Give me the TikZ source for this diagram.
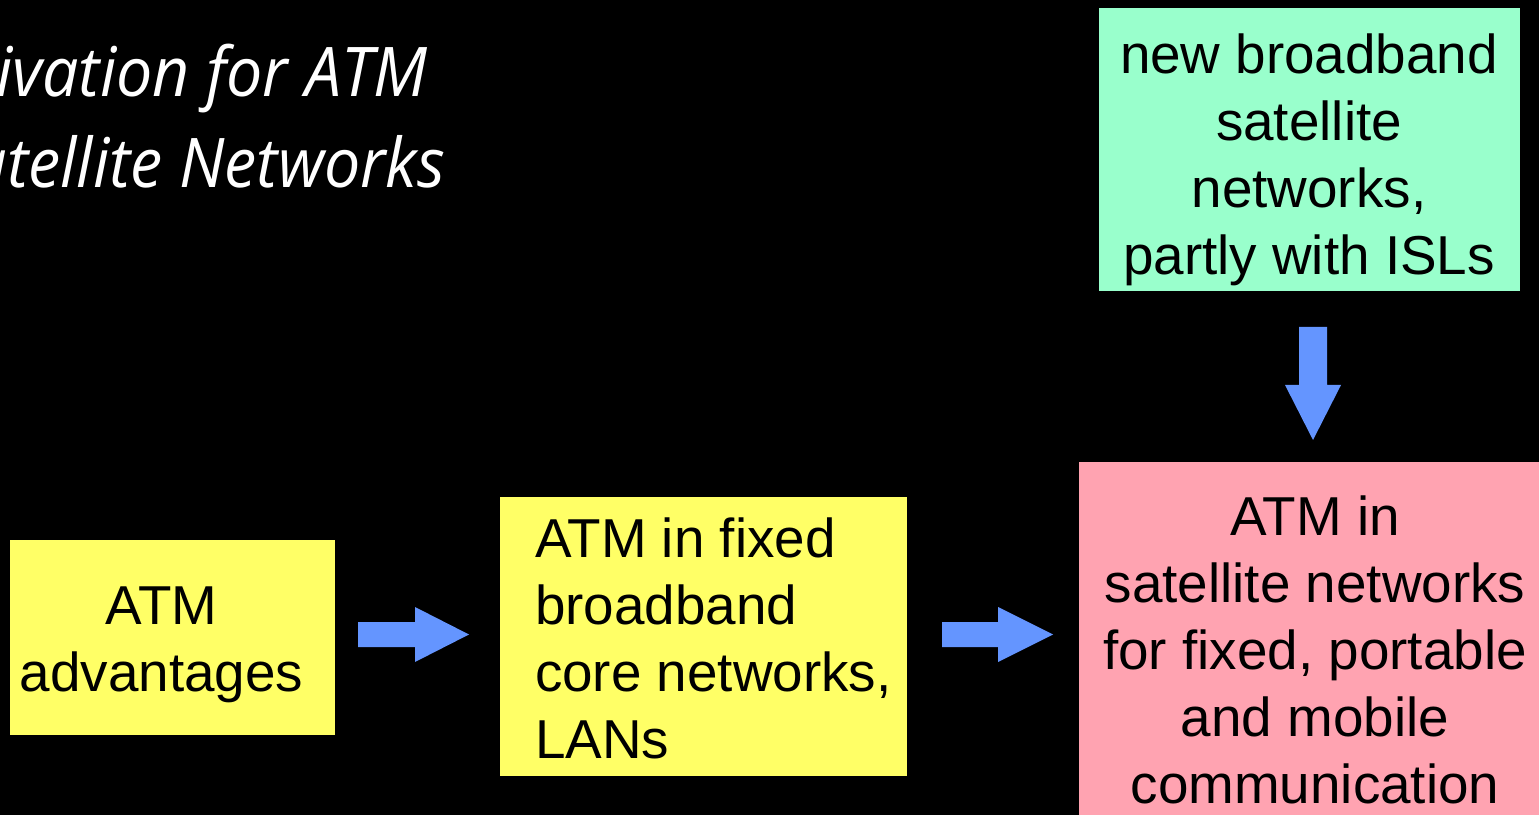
\documentclass[tikz,border=0pt]{standalone}
\usepackage{fontspec}
\setmainfont{Liberation Sans}
\newfontfamily\titlefont[FakeStretch=0.94]{Open Sans}
\usetikzlibrary{calc}
\definecolor{boxyellow}{HTML}{FFFF66}
\definecolor{boxgreen}{HTML}{99FFCC}
\definecolor{boxpink}{HTML}{FFA3B1}
\definecolor{arrowblue}{HTML}{6495FF}
\begin{document}
\begin{tikzpicture}[
  box/.style={draw=none, inner sep=0pt},
  boxtext/.style={inner sep=0pt, text=black, font=\fontsize{15.6}{19.1}\selectfont},
  titletext/.style={text=white, inner sep=0pt, font=\titlefont\itshape\fontsize{19.5}{23}\selectfont, anchor=base east},
  blockarrow/.style={fill=arrowblue, draw=none}]
\fill[black] (0,0) rectangle (15.39,-8.15);
\useasboundingbox (0,0) rectangle (15.39,-8.15);
\clip (0,0) rectangle (15.39,-8.15);
% title
\node[titletext] (t1) at (4.28,-0.97) {Motivation for ATM};
\node[titletext] (t2) at (4.46,-1.88) {in Satellite Networks};
% boxes
\node[box, fill=boxyellow, minimum width=3.25cm, minimum height=1.95cm] (adv) at (1.725,-6.375) {};
\node[boxtext, align=center] (advt) at ($(adv.center)+(-0.11,-0.07)$) {ATM\\advantages};
\node[box, fill=boxyellow, minimum width=4.07cm, minimum height=2.79cm] (fix) at (7.035,-6.365) {};
\node[boxtext, align=left, anchor=west] (fixt) at ($(fix.west)+(0.35,-0.02)$) {ATM in fixed\\broadband\\core networks,\\LANs};
\node[box, fill=boxpink, minimum width=4.8cm, minimum height=3.8cm, anchor=north west] (sat) at (10.78,-4.61) {};
\node[boxtext, align=center, anchor=north] (satt) at (13.15,-4.95) {ATM in\\satellite networks\\for fixed, portable\\and mobile\\communication};
\node[box, fill=boxgreen, minimum width=4.21cm, minimum height=2.83cm] (new) at (13.095,-1.495) {};
\node[boxtext, align=center, anchor=north] (newt) at (13.09,-0.33) {new broadband\\satellite\\networks,\\partly with ISLs};
% arrows
\coordinate (a1s) at (3.58,-6.345);
\coordinate (a1e) at (4.69,-6.345);
\coordinate (a2s) at (9.42,-6.345);
\coordinate (a2e) at (10.53,-6.345);
\coordinate (a3s) at (13.13,-3.27);
\coordinate (a3e) at (13.13,-4.40);
\fill[blockarrow] ($(a1s)+(0,0.125)$) -- ($(a1s)+(0.57,0.125)$) -- ($(a1s)+(0.57,0.275)$) -- (a1e)
  -- ($(a1s)+(0.57,-0.275)$) -- ($(a1s)+(0.57,-0.125)$) -- ($(a1s)+(0,-0.125)$) -- cycle;
\fill[blockarrow] ($(a2s)+(0,0.125)$) -- ($(a2s)+(0.56,0.125)$) -- ($(a2s)+(0.56,0.275)$) -- (a2e)
  -- ($(a2s)+(0.56,-0.275)$) -- ($(a2s)+(0.56,-0.125)$) -- ($(a2s)+(0,-0.125)$) -- cycle;
\fill[blockarrow] ($(a3s)+(-0.14,0)$) -- ($(a3s)+(-0.14,-0.58)$) -- ($(a3s)+(-0.28,-0.58)$) -- (a3e)
  -- ($(a3s)+(0.28,-0.58)$) -- ($(a3s)+(0.14,-0.58)$) -- ($(a3s)+(0.14,0)$) -- cycle;
\end{tikzpicture}
\end{document}
